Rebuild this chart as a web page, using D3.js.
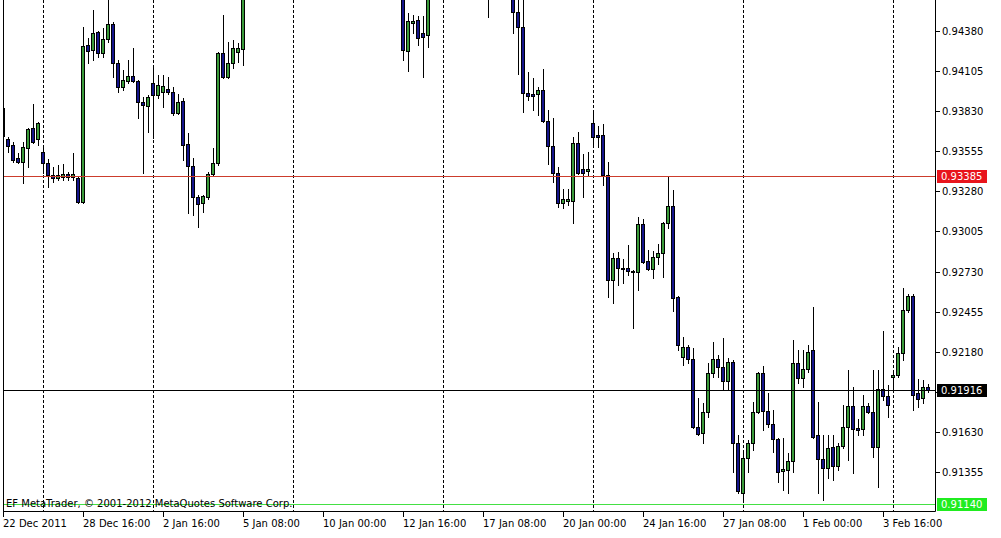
<!DOCTYPE html>
<html>
<head>
<meta charset="utf-8">
<script src="https://cdn.jsdelivr.net/npm/d3@7"></script>
<style>
  body { margin: 0; background: #fff; }
  svg { display: block; }
  text { font-family: "DejaVu Sans", sans-serif; font-size: 10px; }
</style>
</head>
<body>
<div id="chart"></div>
<script>

// H4 bars from 22 Dec 2011 to 3 Feb 2012 (null = bar sits above the top of the window)
var opens = [
  0.93851, 0.93638, 0.93597, 0.93508, 0.93481, 0.93577, 0.93714, 0.93638, 0.93549, 0.93474, // 0
  0.93392, 0.93371, 0.93378, 0.93399, 0.93378, 0.93371, 0.93207, 0.94282, 0.94248, 0.94371, // 10
  0.94227, 0.94323, 0.94426, 0.94159, 0.93994, 0.94035, 0.94070, 0.94035, 0.93892, 0.93864, // 20
  0.94022, 0.93940, 0.93960, 0.93981, 0.93960, 0.93816, 0.93898, 0.93604, 0.93453, 0.93241, // 30
  0.93200, 0.93241, 0.93399, 0.93474, 0.94227, 0.94063, 0.94159, 0.94234, 0.94254, null,    // 40
  null, null, null, null, null, null, null, null, null, null,                               // 50
  null, null, null, null, null, null, null, null, null, null,                               // 60
  null, null, null, null, null, null, null, null, null, null,                               // 70
  0.94659, 0.94241, 0.94433, 0.94453, 0.94364, 0.94350, null, null, null, null,             // 80
  null, null, null, null, null, null, null, 0.94796, null, null,                            // 90
  null, null, 0.94727, 0.94508, 0.94405, 0.93953, 0.93946, 0.93946, 0.93974, 0.93761,       // 100
  0.93590, 0.93405, 0.93200, 0.93214, 0.93214, 0.93611, 0.93433, 0.93419, 0.93748, 0.93666, // 110
  0.93666, 0.93392, 0.92672, 0.92823, 0.92754, 0.92754, 0.92734, 0.92727, 0.93056, 0.92802, // 120
  0.92747, 0.92830, 0.92857, 0.93063, 0.93179, 0.92556, 0.92145, 0.92213, 0.92131, 0.91665, // 130
  0.91624, 0.91768, 0.92035, 0.92131, 0.92076, 0.91981, 0.92110, 0.91556, 0.91213, 0.91453, // 140
  0.91556, 0.91768, 0.92035, 0.91775, 0.91686, 0.91583, 0.91364, 0.91371, 0.91432, 0.92104, // 150
  0.92001, 0.92063, 0.92193, 0.91610, 0.91446, 0.91384, 0.91528, 0.91398, 0.91535, 0.91665, // 160
  0.91809, 0.91658, 0.91652, 0.91809, 0.91768, 0.91528, 0.91926, 0.91878, 0.92008, 0.92022, // 170
  0.92172, 0.92467, 0.92563, 0.91898, 0.91864, 0.91939                                      // 180
];

var highs = [
  0.93892, 0.93652, 0.93618, 0.93542, 0.93618, 0.93714, 0.93878, 0.93755, 0.93577, 0.93501,
  0.93446, 0.93460, 0.93467, 0.93412, 0.93542, 0.93378, 0.94405, 0.94330, 0.94522, 0.94378,
  0.94398, 0.94625, 0.94440, 0.94179, 0.94111, 0.94179, 0.94261, 0.94042, 0.93926, 0.93940,
  0.94125, 0.94077, 0.94077, 0.94063, 0.93994, 0.93946, 0.93919, 0.93679, 0.93508, 0.93255,
  0.93255, 0.93412, 0.93577, 0.94234, 0.94488, 0.94303, 0.94316, 0.94296, 0.94796, null,
  null, null, null, null, null, null, null, null, null, null,
  null, null, null, null, null, null, null, null, null, null,
  null, null, null, null, null, null, null, null, null, null,
  0.94727, 0.94501, 0.94488, 0.94481, 0.94481, 0.94727, null, null, null, null,
  null, null, null, null, null, null, null, 0.94864, null, null,
  null, null, 0.94796, 0.94625, 0.94611, 0.94097, 0.94056, 0.93994, 0.94118, 0.93837,
  0.93782, 0.93446, 0.93296, 0.93296, 0.93652, 0.93686, 0.93535, 0.93549, 0.93816, 0.93727,
  0.93741, 0.93481, 0.92857, 0.92864, 0.92816, 0.92912, 0.92741, 0.93104, 0.93090, 0.92878,
  0.92871, 0.92919, 0.93070, 0.93385, 0.93289, 0.92563, 0.92282, 0.92227, 0.92206, 0.91864,
  0.91830, 0.92104, 0.92247, 0.92158, 0.92275, 0.92138, 0.92124, 0.91610, 0.91508, 0.91576,
  0.91837, 0.92042, 0.92083, 0.91898, 0.91782, 0.91590, 0.91590, 0.91487, 0.92261, 0.92193,
  0.92193, 0.92227, 0.92487, 0.91837, 0.91610, 0.91610, 0.91610, 0.91556, 0.91816, 0.92056,
  0.91939, 0.91720, 0.91885, 0.91830, 0.92056, 0.92056, 0.92323, 0.91953, 0.92035, 0.92213,
  0.92618, 0.92576, 0.92576, 0.91994, 0.91987, 0.91960
];

var lows = [
  0.93631, 0.93549, 0.93481, 0.93474, 0.93337, 0.93446, 0.93611, 0.93597, 0.93405, 0.93309,
  0.93344, 0.93357, 0.93357, 0.93357, 0.93357, 0.93200, 0.93200, 0.94159, 0.94179, 0.94200,
  0.94200, 0.94303, 0.94063, 0.93960, 0.93974, 0.94022, 0.94029, 0.93782, 0.93405, 0.93686,
  0.93645, 0.93919, 0.93857, 0.93946, 0.93803, 0.93809, 0.93494, 0.93131, 0.93118, 0.93035,
  0.93138, 0.93227, 0.93392, 0.93460, 0.94056, 0.94056, 0.94125, 0.94166, 0.94145, null,
  null, null, null, null, null, null, null, null, null, null,
  null, null, null, null, null, null, null, null, null, null,
  null, null, null, null, null, null, null, null, null, null,
  0.94179, 0.94104, 0.94364, 0.94282, 0.94063, 0.94268, null, null, null, null,
  null, null, null, null, null, null, null, 0.94474, null, null,
  null, null, 0.94364, 0.94083, 0.93823, 0.93905, 0.93837, 0.93803, 0.93755, 0.93467,
  0.93344, 0.93172, 0.93166, 0.93186, 0.93063, 0.93399, 0.93241, 0.93392, 0.93597, 0.93583,
  0.93323, 0.92556, 0.92515, 0.92638, 0.92652, 0.92707, 0.92343, 0.92604, 0.92789, 0.92741,
  0.92686, 0.92782, 0.92693, 0.93029, 0.92460, 0.92193, 0.92090, 0.92104, 0.91658, 0.91610,
  0.91556, 0.91734, 0.92008, 0.92008, 0.91919, 0.91919, 0.91357, 0.91213, 0.91165, 0.91357,
  0.91508, 0.91761, 0.91645, 0.91665, 0.91494, 0.91289, 0.91234, 0.91213, 0.91357, 0.91967,
  0.91939, 0.92042, 0.91590, 0.91213, 0.91165, 0.91316, 0.91302, 0.91371, 0.91521, 0.91439,
  0.91350, 0.91610, 0.91610, 0.91761, 0.91460, 0.91255, 0.91850, 0.91734, 0.91905, 0.92008,
  0.92124, 0.92453, 0.91782, 0.91802, 0.91830, 0.91905
];

var closes = [
  0.93659, 0.93590, 0.93494, 0.93481, 0.93583, 0.93707, 0.93618, 0.93748, 0.93474, 0.93392,
  0.93371, 0.93392, 0.93399, 0.93378, 0.93399, 0.93207, 0.94275, 0.94241, 0.94364, 0.94227,
  0.94323, 0.94426, 0.94159, 0.93994, 0.94042, 0.94070, 0.94035, 0.93892, 0.93871, 0.93926,
  0.93940, 0.94008, 0.94001, 0.93960, 0.93816, 0.93892, 0.93597, 0.93453, 0.93241, 0.93193,
  0.93248, 0.93399, 0.93474, 0.94227, 0.94063, 0.94159, 0.94261, 0.94261, 0.94727, null,
  null, null, null, null, null, null, null, null, null, null,
  null, null, null, null, null, null, null, null, null, null,
  null, null, null, null, null, null, null, null, null, null,
  0.94248, 0.94446, 0.94446, 0.94330, 0.94337, 0.94659, null, null, null, null,
  null, null, null, null, null, null, null, 0.94659, null, null,
  null, null, 0.94508, 0.94405, 0.93953, 0.93933, 0.93933, 0.93974, 0.93761, 0.93590,
  0.93405, 0.93200, 0.93227, 0.93227, 0.93611, 0.93405, 0.93405, 0.93433, 0.93652, 0.93652,
  0.93392, 0.92672, 0.92823, 0.92754, 0.92747, 0.92734, 0.92727, 0.93056, 0.92795, 0.92747,
  0.92830, 0.92857, 0.93063, 0.93179, 0.92549, 0.92227, 0.92213, 0.92131, 0.91665, 0.91617,
  0.91768, 0.92035, 0.92131, 0.92076, 0.91981, 0.92110, 0.91556, 0.91227, 0.91453, 0.91556,
  0.91768, 0.92035, 0.91775, 0.91686, 0.91583, 0.91357, 0.91378, 0.91432, 0.92104, 0.92001,
  0.92063, 0.92179, 0.91597, 0.91446, 0.91384, 0.91521, 0.91398, 0.91535, 0.91665, 0.91809,
  0.91652, 0.91645, 0.91809, 0.91768, 0.91528, 0.91926, 0.91878, 0.91816, 0.92022, 0.92172,
  0.92467, 0.92563, 0.91885, 0.91857, 0.91939, 0.91916
];

// time axis labels and the bars they sit on
var timeLabels = ['22 Dec 2011', '28 Dec 16:00', '2 Jan 16:00', '5 Jan 08:00', '10 Jan 00:00', '12 Jan 16:00',
                  '17 Jan 08:00', '20 Jan 00:00', '24 Jan 16:00', '27 Jan 08:00', '1 Feb 00:00', '3 Feb 16:00'];
var labelBars = [0, 16, 32, 48, 64, 80, 96, 112, 128, 144, 160, 176];

// period separators (start of each week)
var separatorBars = [8, 30, 58, 88, 118, 148, 178];

// price scale
var priceTicks = [0.94380, 0.94105, 0.93830, 0.93555, 0.93280, 0.93005, 0.92730, 0.92455, 0.92180, 0.91905, 0.91630, 0.91355];

// horizontal lines: resistance, bid, support
var levelValues = [0.93385, 0.91916, 0.91140];


var width = 1001,
    height = 538;

var plot = {left: 3, right: 935, bottom: 511};

var x = d3.scaleLinear()
  .domain([0, opens.length - 1])
  .range([3, 928]);   // 5 px per bar

var y = d3.scaleLinear()
  .domain([0.91355, 0.94380])
  .range([472.3, 30.7]);

var snap = (v) => Math.round(v) + 0.5;

var svg = d3.select('#chart')
  .append('svg')
  .attr('width', width)
  .attr('height', height);

svg.append('rect')
  .attr('width', width)
  .attr('height', height)
  .attr('fill', '#fff');

svg.append('defs').append('clipPath')
  .attr('id', 'plotClip')
  .append('rect')
  .attr('x', plot.left)
  .attr('y', 0)
  .attr('width', plot.right - plot.left)
  .attr('height', plot.bottom);

var g = svg.append('g').attr('clip-path', 'url(#plotClip)');

// dotted week separators
g.selectAll('line.sep')
  .data(separatorBars)
  .enter()
  .append('line')
  .attr('class', 'sep')
  .attr('x1', function(d) { return snap(x(d)); })
  .attr('x2', function(d) { return snap(x(d)); })
  .attr('y1', 0)
  .attr('y2', plot.bottom)
  .attr('stroke', '#000')
  .attr('stroke-dasharray', '3,2');

var bars = d3.range(opens.length).filter(function(i) { return opens[i] !== null; });

// wicks
g.selectAll('line.wick')
  .data(bars)
  .enter()
  .append('line')
  .attr('class', 'wick')
  .attr('x1', function(i) { return snap(x(i)); })
  .attr('x2', function(i) { return snap(x(i)); })
  .attr('y1', function(i) { return Math.round(y(highs[i])); })
  .attr('y2', function(i) { return Math.round(y(lows[i])) + 1; })
  .attr('stroke', '#000');

// bodies
g.selectAll('rect.body')
  .data(bars)
  .enter()
  .append('rect')
  .attr('class', 'body')
  .attr('x', function(i) { return Math.round(x(i)) - 1.5; })
  .attr('y', function(i) { return snap(y(Math.max(opens[i], closes[i]))); })
  .attr('width', 3)
  .attr('height', function(i) {
    var h = Math.round(y(Math.min(opens[i], closes[i]))) - Math.round(y(Math.max(opens[i], closes[i])));
    return Math.max(h, 1);
  })
  .attr('fill', function(i) { return closes[i] >= opens[i] ? '#3a9a3a' : '#14148c'; })
  .attr('stroke', '#000');

// horizontal level lines
var levelLine = ['#cc3c2c', '#000', '#44e044'];
var levelBox = ['#e8141c', '#000', '#20ec20'];

g.selectAll('line.level')
  .data(levelValues)
  .enter()
  .append('line')
  .attr('class', 'level')
  .attr('x1', plot.left)
  .attr('x2', plot.right)
  .attr('y1', function(d) { return snap(y(d)); })
  .attr('y2', function(d) { return snap(y(d)); })
  .attr('stroke', function(d, i) { return levelLine[i]; });

// frame
svg.append('path')
  .attr('d', 'M' + (plot.left + 0.5) + ',0V' + (plot.bottom + 0.5) + 'H' + (plot.right + 0.5) + 'V0')
  .attr('fill', 'none')
  .attr('stroke', '#000');

// price axis
var yAxis = svg.append('g');

yAxis.selectAll('line')
  .data(priceTicks)
  .enter()
  .append('line')
  .attr('x1', plot.right)
  .attr('x2', plot.right + 5)
  .attr('y1', function(d) { return snap(y(d)); })
  .attr('y2', function(d) { return snap(y(d)); })
  .attr('stroke', '#000');

yAxis.selectAll('text')
  .data(priceTicks)
  .enter()
  .append('text')
  .attr('x', plot.right + 7)
  .attr('y', function(d) { return snap(y(d)); })
  .attr('dy', '0.36em')
  .attr('fill', '#000')
  .text(function(d) { return d.toFixed(5); });

// level price boxes
var boxes = svg.selectAll('g.box')
  .data(levelValues)
  .enter()
  .append('g')
  .attr('class', 'box');

boxes.append('rect')
  .attr('x', plot.right + 2)
  .attr('y', function(d) { return snap(y(d)) - 6.5; })
  .attr('width', 50)
  .attr('height', 13)
  .attr('fill', function(d, i) { return levelBox[i]; });

boxes.append('text')
  .attr('x', plot.right + 6)
  .attr('y', function(d) { return snap(y(d)); })
  .attr('dy', '0.36em')
  .attr('fill', '#fff')
  .text(function(d) { return d.toFixed(5); });

// time axis
var xAxis = svg.append('g');

xAxis.selectAll('line')
  .data(labelBars)
  .enter()
  .append('line')
  .attr('x1', function(d) { return snap(x(d)); })
  .attr('x2', function(d) { return snap(x(d)); })
  .attr('y1', plot.bottom)
  .attr('y2', plot.bottom + 6)
  .attr('stroke', '#000');

xAxis.selectAll('text')
  .data(labelBars)
  .enter()
  .append('text')
  .attr('x', function(d) { return Math.round(x(d)); })
  .attr('y', 527)
  .attr('fill', '#000')
  .text(function(d, i) { return timeLabels[i]; });

// copyright
svg.append('text')
  .attr('x', 6)
  .attr('y', 507)
  .attr('fill', '#000')
  .text('EF MetaTrader, \u00a9 2001-2012 MetaQuotes Software Corp.');

</script>
</body>
</html>
